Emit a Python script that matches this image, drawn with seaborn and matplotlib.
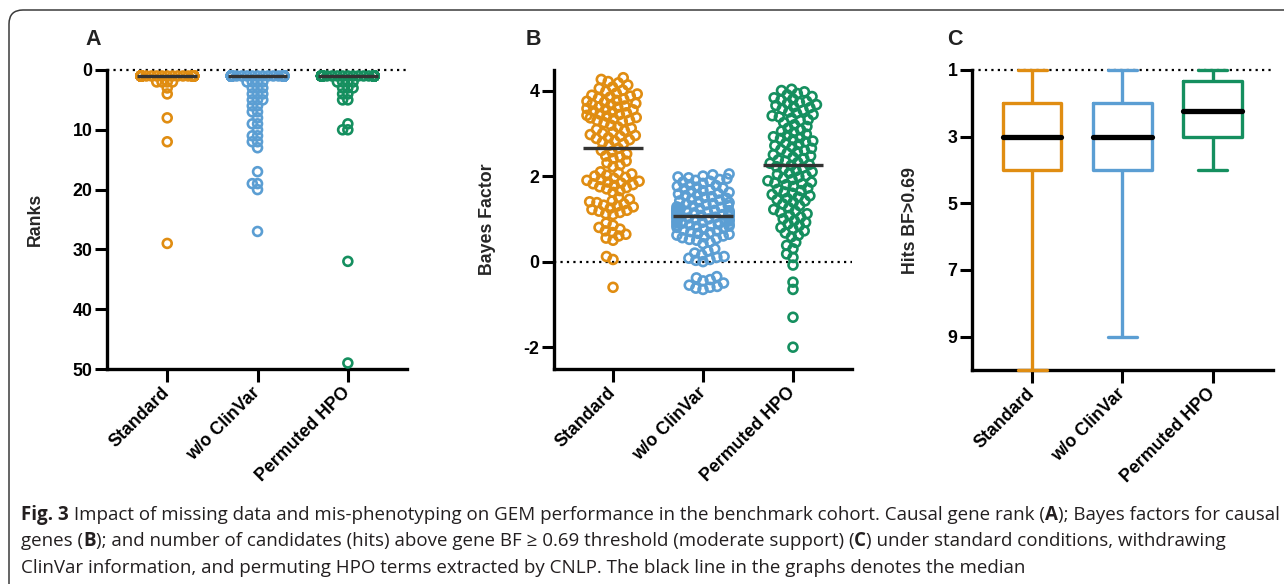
import warnings
warnings.filterwarnings("ignore")
import numpy as np
import pandas as pd
import matplotlib
matplotlib.use("Agg")
import matplotlib.pyplot as plt
from matplotlib.patches import FancyBboxPatch
from matplotlib.transforms import IdentityTransform
import seaborn as sns

# ---------------- data ----------------
GROUPS = ["Standard", "w/o ClinVar", "Permuted HPO"]
COLORS = ["#E08D12", "#5B9ED3", "#158F5F"]

# Panel A: causal gene rank (value, count)
RANK_STD_VALUES = [1, 2, 3, 4, 8, 12, 29]
RANK_STD_COUNTS = [110, 4, 1, 1, 1, 1, 1]
RANK_CLIN_VALUES = [1, 2, 3, 4, 5, 6, 7, 8, 9, 10, 11, 12, 13, 17, 19, 20, 27]
RANK_CLIN_COUNTS = [88, 4, 3, 3, 3, 2, 2, 1, 2, 1, 2, 2, 1, 1, 2, 1, 1]
RANK_PERM_VALUES = [1, 2, 3, 4, 5, 9, 10, 32, 49]
RANK_PERM_COUNTS = [103, 4, 3, 2, 2, 1, 2, 1, 1]

# Panel B: Bayes factors
BF_STD = [4.30, 4.26, 4.21, 4.18, 4.13, 4.08, 4.05,
          4.01, 3.98, 3.94, 3.92, 3.89, 3.87, 3.85, 3.82, 3.80, 3.77,
          3.75, 3.73, 3.70, 3.68, 3.67, 3.64, 3.62, 3.61, 3.58, 3.56, 3.55, 3.52,
          3.50, 3.48, 3.45, 3.44, 3.42, 3.40, 3.37, 3.36, 3.34, 3.31, 3.30, 3.28, 3.25,
          3.19, 3.15, 3.12, 3.09, 3.06, 3.03, 3.00, 2.97, 2.95, 2.93, 2.90, 2.88,
          2.85, 2.82, 2.79, 2.76, 2.72,
          2.65,
          2.60, 2.57, 2.52, 2.47, 2.45, 2.41, 2.35, 2.31, 2.26, 2.22,
          2.10, 2.08, 2.05, 2.02, 2.00, 1.97, 1.95, 1.92, 1.90, 1.88,
          1.86, 1.84, 1.82, 1.80, 1.78, 1.75, 1.73, 1.70, 1.66, 1.62,
          1.50, 1.46, 1.42, 1.40, 1.38, 1.35, 1.32, 1.30, 1.28, 1.25,
          1.22, 1.20, 1.18, 1.15, 1.12, 1.10,
          0.90, 0.85, 0.80, 0.76, 0.72, 0.68, 0.64, 0.60, 0.55, 0.50,
          0.12, 0.05, -0.60]
BF_CLIN = [2.05, 2.03, 2.00, 1.98, 1.96, 1.94, 1.92, 1.90, 1.88, 1.86,
           1.83, 1.80, 1.78, 1.76, 1.74, 1.72, 1.70, 1.68, 1.66, 1.64,
           1.62, 1.60, 1.58, 1.56, 1.54, 1.52, 1.50, 1.48, 1.46, 1.44,
           1.42, 1.40, 1.38, 1.36, 1.35, 1.33, 1.31, 1.30, 1.28, 1.27,
           1.25, 1.24, 1.22, 1.21, 1.20, 1.19, 1.18, 1.17, 1.16, 1.15,
           1.14, 1.13, 1.12, 1.11, 1.10, 1.10, 1.09, 1.08, 1.08,
           1.07,
           1.06, 1.05, 1.04, 1.03, 1.02, 1.00, 0.99, 0.98, 0.96, 0.95, 0.94,
           0.92, 0.91, 0.90, 0.88, 0.87, 0.86, 0.85, 0.84, 0.83, 0.82, 0.80,
           0.78, 0.76, 0.74, 0.72, 0.70, 0.68, 0.66, 0.64, 0.62, 0.60,
           0.58, 0.56, 0.54, 0.52, 0.50, 0.46, 0.42,
           0.30, 0.25, 0.20, 0.16, 0.12, 0.10, 0.08, 0.05, 0.03, 0.00,
           -0.35, -0.38, -0.42, -0.45, -0.50, -0.55, -0.58, -0.60, -0.62, -0.65]
BF_PERM = [4.03, 4.00, 3.97, 3.93, 3.90, 3.86, 3.83, 3.80,
           3.78, 3.75, 3.72, 3.70, 3.67, 3.65, 3.62, 3.60, 3.57, 3.54,
           3.50, 3.47, 3.44, 3.41, 3.38, 3.35, 3.32, 3.30,
           3.25, 3.20, 3.16, 3.12, 3.08, 3.05, 3.02, 2.98, 2.95, 2.92,
           2.90, 2.88, 2.85, 2.82, 2.80,
           2.77, 2.74, 2.71, 2.68, 2.65, 2.62, 2.60, 2.57, 2.54, 2.50,
           2.47, 2.44, 2.41, 2.38, 2.35, 2.32, 2.30, 2.27,
           2.25,
           2.22, 2.19, 2.16, 2.13, 2.10, 2.07, 2.04, 2.01, 1.98, 1.95,
           1.92, 1.89, 1.86, 1.84, 1.82, 1.80,
           1.76, 1.72, 1.69, 1.66, 1.63, 1.60, 1.57, 1.54, 1.51, 1.48,
           1.45, 1.42, 1.39, 1.35, 1.31,
           1.26, 1.22, 1.18, 1.15, 1.12, 1.08, 1.04, 1.00, 0.96, 0.92,
           0.88, 0.84, 0.80, 0.76, 0.72, 0.67, 0.62, 0.58,
           0.45, 0.38, 0.30, 0.18, 0.10,
           -0.08, -0.48, -0.65, -1.30, -2.00]

# Panel C: hits BF>0.69, five-number summaries (min, Q1, median, Q3, max)
HITS_STD = [1, 2, 3, 4, 10]
HITS_CLIN = [1, 2, 3, 4, 9]
HITS_PERM = [1, 1.33, 2.23, 3, 4]

YLABELS = ["Ranks", "Bayes Factor", "Hits BF>0.69"]
PANEL_LETTERS = ["A", "B", "C"]
A_TICKS = [0, 10, 20, 30, 40, 50]
B_TICKS = [-2, 0, 2, 4]
C_TICKS = [1, 3, 5, 7, 9]

CAPTION_LINES = [
    [("Fig. 3", "bold"), (" Impact of missing data and mis-phenotyping on GEM performance in the benchmark cohort. Causal gene rank (", "normal"),
     ("A", "bold"), ("); Bayes factors for causal", "normal")],
    [("genes (", "normal"), ("B", "bold"),
     ("); and number of candidates (hits) above gene BF \u2265 0.69 threshold (moderate support) (", "normal"),
     ("C", "bold"), (") under standard conditions, withdrawing", "normal")],
    [("ClinVar information, and permuting HPO terms extracted by CNLP. The black line in the graphs denotes the median", "normal")],
]

# ---------------- style ----------------
sns.set_style("ticks")
plt.rcParams["font.family"] = ["Liberation Sans", "DejaVu Sans"]
plt.rcParams["axes.unicode_minus"] = False
W, H = 1284, 584
fig = plt.figure(figsize=(W / 100, H / 100), dpi=100)
fig.patch.set_facecolor("white")

def px_axes(left, top, right, bottom):
    return fig.add_axes([left / W, 1 - bottom / H, (right - left) / W, (bottom - top) / H])

axA = px_axes(107, 70, 407, 369)
axB = px_axes(554, 70, 852, 369)
axC = px_axes(972, 70, 1273, 370)

LAYOUT_D = {"A": 3.6, "B": 5.0}   # marker diameter (pt) used for the swarm layout
MARK_D = 6.4                      # drawn marker diameter (pt)
MARK_LW = 1.9
SWARM_HALF = 0.29                 # half width of the swarm band (category units)
TICK_FS = 12.8

dfA = pd.DataFrame({
    "group": np.concatenate([[g] * sum(c) for g, c in zip(GROUPS, [RANK_STD_COUNTS, RANK_CLIN_COUNTS, RANK_PERM_COUNTS])]),
    "value": np.concatenate([np.repeat(RANK_STD_VALUES, RANK_STD_COUNTS),
                             np.repeat(RANK_CLIN_VALUES, RANK_CLIN_COUNTS),
                             np.repeat(RANK_PERM_VALUES, RANK_PERM_COUNTS)]).astype(float),
})
dfB = pd.DataFrame({
    "group": [GROUPS[0]] * len(BF_STD) + [GROUPS[1]] * len(BF_CLIN) + [GROUPS[2]] * len(BF_PERM),
    "value": BF_STD + BF_CLIN + BF_PERM,
})
dfC = pd.DataFrame({
    "group": [GROUPS[0]] * len(HITS_STD) + [GROUPS[1]] * len(HITS_CLIN) + [GROUPS[2]] * len(HITS_PERM),
    "value": HITS_STD + HITS_CLIN + HITS_PERM,
})

swarm_colls = {}
for key, ax, df in [("A", axA, dfA), ("B", axB, dfB)]:
    n0 = len(ax.collections)
    sns.swarmplot(data=df, x="group", y="value", hue="group", order=GROUPS, hue_order=GROUPS,
                  palette=COLORS, size=LAYOUT_D[key], linewidth=0, legend=False,
                  ax=ax, zorder=3)
    swarm_colls[ax] = list(ax.collections[n0:])
    sns.boxplot(data=df, x="group", y="value", order=GROUPS, width=0.66,
                showbox=False, showcaps=False, showfliers=False,
                whiskerprops={"visible": False},
                medianprops={"color": "#333333", "linewidth": 2.4, "zorder": 6},
                ax=ax)

sns.boxplot(data=dfC, x="group", y="value", hue="group", order=GROUPS, hue_order=GROUPS,
            palette=COLORS, fill=False, whis=(0, 100), width=0.65, linewidth=2.4,
            showfliers=False, legend=False,
            medianprops={"color": "black", "linewidth": 3.8, "solid_capstyle": "round"}, ax=axC)
for ln in axC.lines:
    ln.set_clip_on(False)
    ln.set_zorder(4)

# limits / ticks
axA.set_xlim(-0.667, 2.655); axA.set_ylim(50, 0); axA.set_yticks(A_TICKS)
axB.set_xlim(-0.656, 2.656); axB.set_ylim(-2.51, 4.48); axB.set_yticks(B_TICKS)
axC.set_xlim(-0.667, 2.67); axC.set_ylim(10, 1); axC.set_yticks(C_TICKS)

dot_ls = (0, (1, 1.9))
axA.axhline(0, color="black", lw=1.6, ls=dot_ls, zorder=1.5, clip_on=False)
axB.axhline(0, color="black", lw=1.6, ls=dot_ls, zorder=1.5)
axC.axhline(1, color="black", lw=1.6, ls=dot_ls, zorder=1.5, clip_on=False)

label_x = [-0.21, -0.195, -0.176]
for ax, lab, lx in zip([axA, axB, axC], YLABELS, label_x):
    sns.despine(ax=ax)
    for s in ["left", "bottom"]:
        ax.spines[s].set_linewidth(2.4)
        ax.spines[s].set_color("black")
        ax.spines[s].set_zorder(2.5)
    ax.tick_params(axis="both", length=9, width=2.2, color="black", labelsize=TICK_FS,
                   labelcolor="black")
    ax.tick_params(axis="y", pad=1.5)
    ax.tick_params(axis="x", pad=6.5)
    ax.set_xticks([0, 1, 2])
    ax.set_xticklabels(GROUPS, rotation=45, ha="right", va="center", rotation_mode="anchor",
                       fontweight="bold", fontsize=TICK_FS)
    for t in ax.get_yticklabels():
        t.set_fontweight("bold")
    ax.set_xlabel("")
    ax.set_ylabel(lab, fontweight="bold", fontsize=12.8)
    ax.yaxis.set_label_coords(lx, 0.5)
    ax.set_facecolor("none")

for letter, xpx in zip(PANEL_LETTERS, [85, 526, 947]):
    fig.text(xpx / W, 1 - 45 / H, letter, fontsize=15.5, fontweight="bold", color="#222222",
             ha="left", va="baseline")

# compute swarm layout, then freeze and draw with larger open circles
fig.canvas.draw()
for ax, colls in swarm_colls.items():
    for c in colls:
        offs = np.array(c.get_offsets(), dtype=float)
        center = np.round(np.median(offs[:, 0]))
        offs[:, 0] = center + np.clip(offs[:, 0] - center, -SWARM_HALF, SWARM_HALF)
        c.__dict__.pop("draw", None)
        c.set_offsets(offs)
        fc = np.array(c.get_facecolors())
        c.set_edgecolors(fc)
        c.set_facecolors("none")
        c.set_sizes([MARK_D ** 2])
        c.set_linewidths(MARK_LW)
        c.set_clip_on(False)

# caption
CAP_FONT = ["Open Sans", "DejaVu Sans"]
CAP_COLOR = "#231F20"
renderer = fig.canvas.get_renderer()

def seg_width(text, weight, size):
    t1 = fig.text(0, 0, "|" + text + "|", fontsize=size, fontweight=weight, family=CAP_FONT)
    t2 = fig.text(0, 0, "||", fontsize=size, fontweight=weight, family=CAP_FONT)
    w = t1.get_window_extent(renderer).width - t2.get_window_extent(renderer).width
    t1.remove(); t2.remove()
    return w

base = 10.0
w1 = sum(seg_width(t, wt, base) for t, wt in CAPTION_LINES[0])
cap_size = base * (1257.0 / w1)
for line, ypx in zip(CAPTION_LINES, [520, 546.5, 573]):
    x = 21.0
    for text, weight in line:
        fig.text(x / W, 1 - ypx / H, text, fontsize=cap_size, fontweight=weight, family=CAP_FONT,
                 color=CAP_COLOR, ha="left", va="baseline")
        x += seg_width(text, weight, cap_size)

border = FancyBboxPatch((9, -40), 1400, 574 + 40, boxstyle="round,pad=0,rounding_size=14",
                        transform=IdentityTransform(), fill=False, edgecolor="#3a3a3a",
                        linewidth=1.1)
fig.patches.append(border)

fig.savefig("out.png", dpi=100)
